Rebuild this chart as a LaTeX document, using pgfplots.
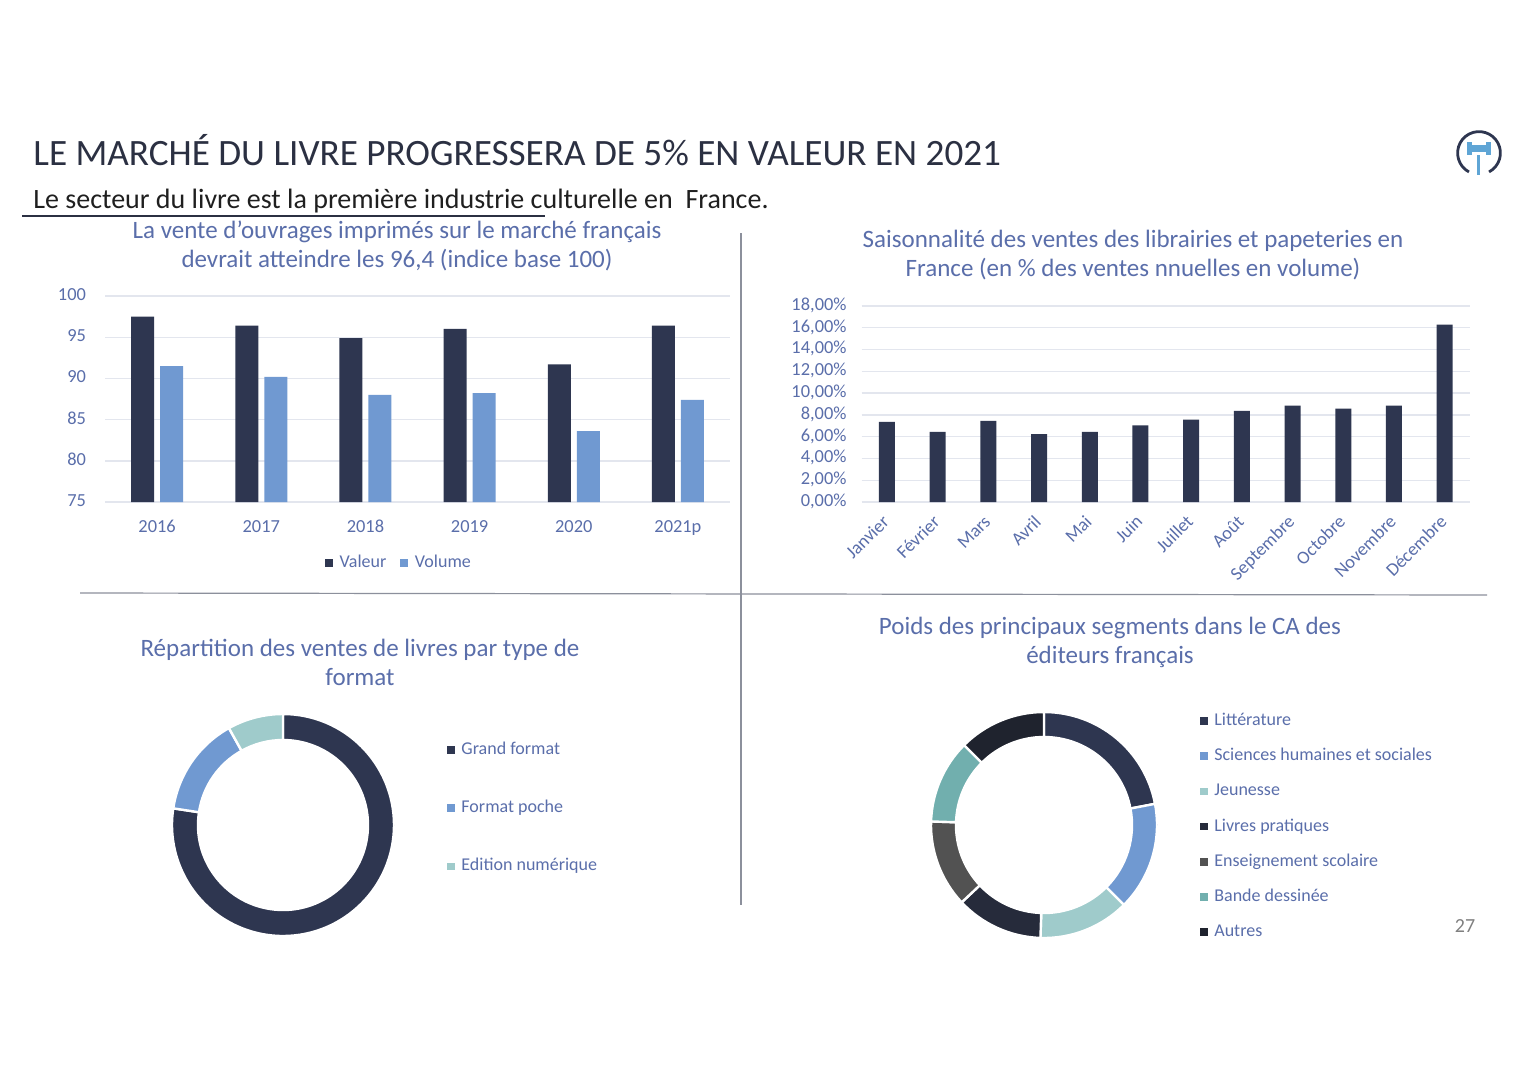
\documentclass[border=0pt]{standalone}
\usepackage{fontspec}
\setmainfont{Carlito}
\usepackage{pgfplots}
\usepackage{pgfplotstable}
\pgfplotsset{compat=1.18}

\definecolor{cNavy}{HTML}{2E3650}
\definecolor{cBlue}{HTML}{7099D1}
\definecolor{cLTeal}{HTML}{9FCBCB}
\definecolor{cDark}{HTML}{262B3B}
\definecolor{cGray}{HTML}{525252}
\definecolor{cTeal}{HTML}{71AFAE}
\definecolor{cDarkest}{HTML}{1F232E}
\definecolor{cText}{HTML}{5A6EAA}
\definecolor{cGrid}{HTML}{E3E6EE}
\definecolor{cTitle}{HTML}{2B3042}
\definecolor{cIcon}{HTML}{5FA5D5}
\definecolor{cRule}{HTML}{8C909C}

\pgfplotstableread{
x valeur volume
0 97.5 91.5
1 96.4 90.2
2 94.9 88.0
3 96.0 88.2
4 91.7 83.6
5 96.4 87.4
}\tblMarche

\pgfplotstableread{
x pct
0 7.35
1 6.43
2 7.44
3 6.24
4 6.43
5 7.04
6 7.56
7 8.36
8 8.85
9 8.57
10 8.85
11 16.28
}\tblSaison

\pgfplotstableread{
value color
77.4 cNavy
14.5 cBlue
8.1 cLTeal
}\tblFormat

\pgfplotstableread{
value color
22.0 cNavy
15.5 cBlue
13.0 cLTeal
12.5 cDark
12.5 cGray
12.0 cTeal
12.5 cDarkest
}\tblSegments

\newcommand\drawdonut[3]{%
  \def\cumangle{90}%
  \pgfplotstablegetrowsof{#1}%
  \pgfmathtruncatemacro\nrows{\pgfplotsretval-1}%
  \pgfplotsforeachungrouped \i in {0,...,\nrows}{%
    \pgfplotstablegetelem{\i}{value}\of{#1}\let\dv\pgfplotsretval
    \pgfplotstablegetelem{\i}{color}\of{#1}\let\dc\pgfplotsretval
    \pgfmathsetmacro\aend{\cumangle-3.6*\dv}%
    \edef\temp{\noexpand\fill[\dc, draw=white, line width=1.2pt, shift={(axis cs:0,0)}]
      (\cumangle:#2) arc[start angle=\cumangle, end angle=\aend, radius=#2]
      -- (\aend:#3) arc[start angle=\aend, end angle=\cumangle, radius=#3] -- cycle;}%
    \temp
    \global\let\cumangle\aend
  }%
}

\pgfplotsset{
  sqlegend/.style={
    legend image code/.code={\fill[##1, draw=none] (0pt,-1.9pt) rectangle (3.8pt,1.9pt);
      \path (5.3pt,0pt);},
  },
}

\begin{document}
\begin{tikzpicture}
\path[use as bounding box, fill=white] (0,0) rectangle (768pt,-543.5pt);

% ---------- Chart 1 ----------
\begin{axis}[
  at={(52.5pt,-251pt)}, anchor=south west,
  scale only axis, width=312.5pt, height=103pt,
  ybar=3pt, bar width=11.5pt,
  xmin=-0.5, xmax=5.5, ymin=75, ymax=100,
  xtick={0,...,5}, xticklabels={2016,2017,2018,2019,2020,2021p},
  ytick={75,80,...,100},
  ymajorgrids, grid style={cGrid, line width=0.7pt},
  axis line style={draw=none},
  major tick length=0pt,
  typeset ticklabels with strut,
  /pgf/number format/assume math mode=true,
  tick label style={text=cText, font=\fontsize{9.2}{11}\selectfont},
  yticklabel style={xshift=-6pt},
  xticklabel style={yshift=-4pt},
  sqlegend,
  legend style={at={(0.472,-0.296)}, anchor=center, draw=none, fill=none,
    legend columns=2, font=\fontsize{9}{11}\selectfont, text=cText,
    /tikz/every even column/.append style={column sep=5pt}},
]
\addplot[fill=cNavy, draw=none] table[x=x,y=valeur]{\tblMarche};
\addplot[fill=cBlue, draw=none] table[x=x,y=volume]{\tblMarche};
\legend{Valeur, Volume}
\end{axis}

% ---------- Chart 2 ----------
\begin{axis}[
  at={(430.8pt,-251pt)}, anchor=south west,
  scale only axis, width=304.2pt, height=98pt,
  ybar, bar width=8pt,
  xmin=-0.5, xmax=11.5, ymin=0, ymax=18,
  xtick={0,...,11},
  xticklabels={Janvier,Février,Mars,Avril,Mai,Juin,Juillet,Août,Septembre,Octobre,Novembre,Décembre},
  ytick={0,2,...,18},
  yticklabels={{0,00\%},{2,00\%},{4,00\%},{6,00\%},{8,00\%},{10,00\%},{12,00\%},{14,00\%},{16,00\%},{18,00\%}},
  ymajorgrids, grid style={cGrid, line width=0.7pt},
  axis line style={draw=none},
  major tick length=0pt,
  typeset ticklabels with strut,
  tick label style={text=cText, font=\fontsize{9.2}{11}\selectfont},
  yticklabel style={xshift=-4pt},
  xticklabel style={xshift=2.5pt, yshift=-6.5pt, rotate=45, anchor=east},
]
\addplot[fill=cNavy, draw=none] table[x=x,y=pct]{\tblSaison};
\end{axis}

% ---------- Chart 3 (donut) ----------
\begin{axis}[
  at={(141.5pt,-412.5pt)}, anchor=center,
  scale only axis, width=111pt, height=111pt,
  hide axis, xmin=-1, xmax=1, ymin=-1, ymax=1,
  sqlegend, legend cell align=left,
  legend style={at={(1.239,0.89)}, anchor=north west, draw=none, fill=none,
    font=\fontsize{9}{11}\selectfont, text=cText, inner sep=0pt, row sep=18pt,
    nodes={inner sep=1.5pt, text height=6.3pt, text depth=1.8pt}},
]
\drawdonut{\tblFormat}{55.5pt}{42.5pt}
\addlegendimage{fill=cNavy}\addlegendentry{Grand format}
\addlegendimage{fill=cBlue}\addlegendentry{Format poche}
\addlegendimage{fill=cLTeal}\addlegendentry{Edition numérique}
\end{axis}

% ---------- Chart 4 (donut) ----------
\begin{axis}[
  at={(522pt,-412.5pt)}, anchor=center,
  scale only axis, width=113pt, height=113pt,
  hide axis, xmin=-1, xmax=1, ymin=-1, ymax=1,
  sqlegend, legend cell align=left,
  legend style={at={(1.19,1.011)}, anchor=north west, draw=none, fill=none,
    font=\fontsize{9}{11}\selectfont, text=cText, inner sep=0pt, row sep=6.5pt,
    nodes={inner sep=1.5pt, text height=6.3pt, text depth=1.8pt}},
]
\drawdonut{\tblSegments}{56.5pt}{44pt}
\addlegendimage{fill=cNavy}\addlegendentry{Littérature}
\addlegendimage{fill=cBlue}\addlegendentry{Sciences humaines et sociales}
\addlegendimage{fill=cLTeal}\addlegendentry{Jeunesse}
\addlegendimage{fill=cDark}\addlegendentry{Livres pratiques}
\addlegendimage{fill=cGray}\addlegendentry{Enseignement scolaire}
\addlegendimage{fill=cTeal}\addlegendentry{Bande dessinée}
\addlegendimage{fill=cDarkest}\addlegendentry{Autres}
\end{axis}

% ---------- Decorations ----------
\begin{scope}[x=0.5pt, y=-0.5pt]
\node[anchor=west, text=cTitle, font=\fontsize{18.6}{21}\selectfont, inner sep=0pt] at (33,150)
  {LE MARCHÉ DU LIVRE PROGRESSERA DE 5\% EN VALEUR EN 2021};
\node[anchor=west, text=black!88, font=\fontsize{14}{16}\selectfont, inner sep=0pt] at (33,201)
  {Le secteur du livre est la première industrie culturelle en\ \ France.};
\draw[cTitle, line width=0.8pt] (22,216) -- (545,216);

\node[align=center, text=cText, font=\fontsize{12.5}{14.5}\selectfont] at (397,245.5)
  {La vente d’ouvrages imprimés sur le marché français\\devrait atteindre les 96,4 (indice base 100)};
\node[align=center, text=cText, font=\fontsize{12.5}{14.5}\selectfont] at (1133,255)
  {Saisonnalité des ventes des librairies et papeteries en\\France (en \% des ventes nnuelles en volume)};
\node[align=center, text=cText, font=\fontsize{12.5}{14.5}\selectfont] at (360,662.5)
  {Répartition des ventes de livres par type de\\format};
\node[align=center, text=cText, font=\fontsize{12.5}{14.5}\selectfont] at (1110,642.5)
  {Poids des principaux segments dans le CA des\\éditeurs français};

\draw[cRule, line width=0.6pt] (741,233) -- (741,905);
\draw[cRule, line width=0.6pt] (80,593) -- (1487,595);

\node[text=gray, font=\fontsize{10}{12}\selectfont] at (1465,926) {27};

% icon
\fill[cIcon] (1466.5,141.5) rectangle (1471.5,155);
\fill[cIcon] (1485.5,141.5) rectangle (1490.5,155);
\fill[cIcon] (1466.5,144.5) rectangle (1490.5,152);
\fill[cIcon] (1477,155) rectangle (1480,175);
\end{scope}
\draw[cNavy, line width=1.4pt] (739.5pt,-76.5pt) ++(-62:10.7pt) arc[start angle=-62, end angle=242, radius=10.7pt];
\end{tikzpicture}
\end{document}
